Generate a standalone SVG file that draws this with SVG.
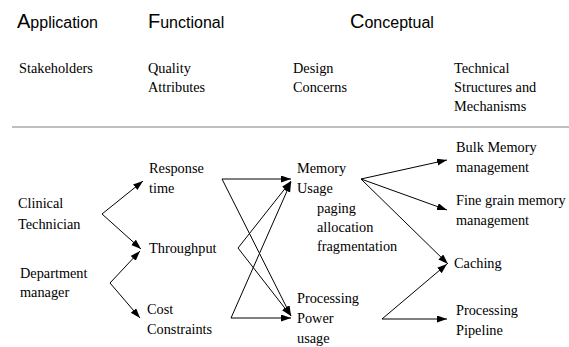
<svg xmlns="http://www.w3.org/2000/svg" width="569" height="347" viewBox="0 0 569 347">
<style>
.e{stroke:#000;stroke-width:1;fill:none;marker-end:url(#ah)}
</style>
<defs>
<marker id="ah" markerUnits="userSpaceOnUse" markerWidth="11" markerHeight="8" refX="10" refY="3.5" orient="auto">
<path d="M0,0 L10,3.5 L0,7 z" fill="#000"/>
</marker>
</defs>
<rect width="569" height="347" fill="#fff"/>
<g id="headers" font-family="Liberation Sans, Arial, sans-serif" font-size="16" fill="#000">
<text x="17" y="28"><tspan font-size="20">A</tspan>pplication</text>
<text x="148" y="28"><tspan font-size="20">F</tspan>unctional</text>
<text x="350" y="28"><tspan font-size="20">C</tspan>onceptual</text>
</g>
<g font-family="Liberation Serif, Times New Roman, serif" font-size="14.3" fill="#000">
<g id="subheaders">
<text x="19" y="73">Stakeholders</text>
<text x="148" y="73">Quality</text>
<text x="148" y="92">Attributes</text>
<text x="293" y="73">Design</text>
<text x="293" y="92">Concerns</text>
<text x="454" y="73">Technical</text>
<text x="454" y="92">Structures and</text>
<text x="454" y="111">Mechanisms</text>
</g>
<g id="clinical"><text x="18" y="208">Clinical</text><text x="18" y="229">Technician</text></g>
<g id="department"><text x="20" y="278">Department</text><text x="20" y="297">manager</text></g>
<g id="response"><text x="149" y="173">Response</text><text x="149" y="193">time</text></g>
<g id="throughput"><text x="149" y="253">Throughput</text></g>
<g id="cost"><text x="147" y="314">Cost</text><text x="147" y="334">Constraints</text></g>
<g id="memory"><text x="297" y="173">Memory</text><text x="297" y="193">Usage</text><text x="317" y="213">paging</text><text x="317" y="232">allocation</text><text x="317" y="251">fragmentation</text></g>
<g id="processing"><text x="297" y="303">Processing</text><text x="297" y="323">Power</text><text x="297" y="343">usage</text></g>
<g id="bulk"><text x="456" y="152">Bulk Memory</text><text x="456" y="172">management</text></g>
<g id="fine"><text x="456" y="205">Fine grain memory</text><text x="456" y="225">management</text></g>
<g id="caching"><text x="454" y="268">Caching</text></g>
<g id="pipeline"><text x="456" y="315">Processing</text><text x="456" y="335">Pipeline</text></g>
</g>
<line x1="12" y1="127" x2="569" y2="127" stroke="#aaa" stroke-width="1.5"/>
<g id="connectors">
<path class="e" d="M102,214 L143,181"/>
<path class="e" d="M102,214 L141,249"/>
<path class="e" d="M110,283 L140,251"/>
<path class="e" d="M110,283 L140,318"/>
<path class="e" d="M222,179 L291,179"/>
<path class="e" d="M222,179 L291,316"/>
<path class="e" d="M238,248 L291,181"/>
<path class="e" d="M238,248 L291,316"/>
<path class="e" d="M231,318 L291,182"/>
<path class="e" d="M231,318 L291,318"/>
<path class="e" d="M361,179 L447,160"/>
<path class="e" d="M361,179 L447,210"/>
<path class="e" d="M361,179 L448,264"/>
<path class="e" d="M382,319 L447,264"/>
<path class="e" d="M382,319 L447,319"/>
</g>
</svg>
